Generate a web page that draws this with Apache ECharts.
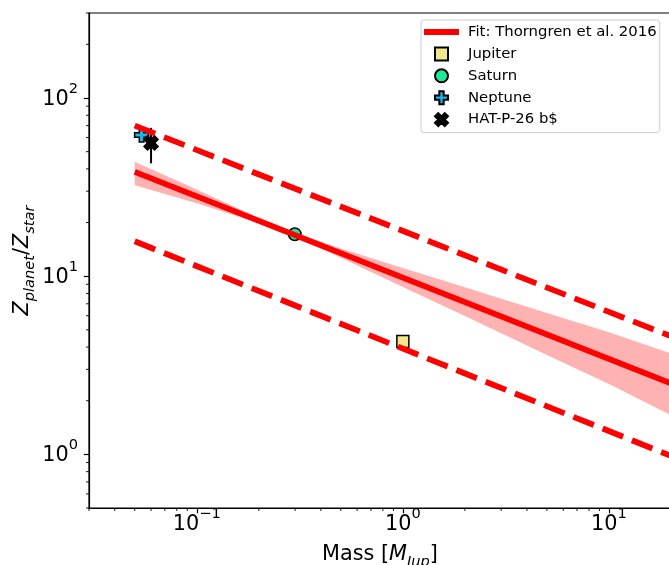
<!DOCTYPE html>
<html>
<head>
<meta charset="utf-8">
<script src="https://cdn.jsdelivr.net/npm/echarts@6/dist/echarts.min.js"></script>
<style>
  html, body { margin: 0; padding: 0; background: #ffffff; }
  #chart { width: 669px; height: 565px; }
</style>
</head>
<body>
<div id="chart"></div>
<script>
// Planet / star metallicity ratio against planet mass, log-log axes.

// Axis ranges
const massRange = [0.03, 20];
const ratioRange = [0.5, 300];

// Major tick labels (base 10 with exponent)
const xTickValues = [0.1, 1, 10];
const xTickExps = ['\u22121', '0', '1'];
const yTickValues = [1, 10, 100];
const yTickExps = ['0', '1', '2'];

// Minor tick positions
const xMinorTicks = [0.03, 0.04, 0.05, 0.06, 0.07, 0.08, 0.09,
                     0.2, 0.3, 0.4, 0.5, 0.6, 0.7, 0.8, 0.9,
                     2, 3, 4, 5, 6, 7, 8, 9, 20];
const yMinorTicks = [0.5, 0.6, 0.7, 0.8, 0.9,
                     2, 3, 4, 5, 6, 7, 8, 9,
                     20, 30, 40, 50, 60, 70, 80, 90,
                     200, 300];

// Thorngren et al. 2016 relation and its scatter envelope (end points)
const fitMass = [0.05, 20];
const fitRatio = [38.5, 2.5];
const envUpper = [70, 4.6];
const envLower = [15.7, 0.98];

// Uncertainty band of the fit
const bandMass = [0.05, 0.1, 0.2, 0.3, 0.5, 1, 2, 5, 10, 20];
const bandLow  = [32.4, 25.7, 19.8, 16.5, 12.7, 8.7, 5.97, 3.61, 2.48, 1.66];
const bandHigh = [43.9, 30.7, 21.2, 17.5, 14.3, 11.1, 8.68, 6.22, 4.84, 3.69];

// Solar-system planets and HAT-P-26 b
const jupiter = [1.0, 4.3];
const saturn = [0.299, 17.2];
const neptune = [0.054, 62];
const hatP26b = [0.06, 56];
const hatP26bErr = [43, 68];

const FONT = 'DejaVu Sans';
const FIT_NAME = 'Fit: Thorngren et al. 2016';
const SQUARE_PATH = 'path://M0,0L1,0L1,1L0,1Z';
const PLUS_PATH = 'path://M1,0L2,0L2,1L3,1L3,2L2,2L2,3L1,3L1,2L0,2L0,1L1,1Z';
const XFILL_PATH = 'path://M1,0L2,1L3,0L4,1L3,2L4,3L3,4L2,3L1,4L0,3L1,2L0,1Z';
const LINE_ICON = 'path://M0,0L35,0L35,5.8L0,5.8Z';

const BIG = 20.8;
const SMALL = 14.6;

const tickRich = {
  b: { fontFamily: FONT, fontSize: BIG, lineHeight: 24, verticalAlign: 'bottom', color: '#000' },
  s: { fontFamily: FONT, fontSize: SMALL, lineHeight: 15, verticalAlign: 'bottom', padding: [0, 0, 13.5, 0], color: '#000' }
};
const labelRich = {
  n: { fontFamily: FONT, fontSize: BIG, lineHeight: 24, verticalAlign: 'top', color: '#000' },
  it: { fontFamily: FONT, fontSize: BIG, fontStyle: 'italic', lineHeight: 24, verticalAlign: 'top', color: '#000' },
  sub: { fontFamily: FONT, fontSize: SMALL, fontStyle: 'italic', lineHeight: 15, verticalAlign: 'top', padding: [11, 0, 0, 0], color: '#000' }
};

function tickFormatter(values, exps) {
  return function (v) {
    for (let i = 0; i < values.length; i++) {
      if (Math.abs(Math.log10(v) - Math.log10(values[i])) < 1e-6) {
        return '{b|10}{s|' + exps[i] + '}';
      }
    }
    return '';
  };
}

const chart = echarts.init(document.getElementById('chart'), null, { renderer: 'canvas' });

const axisCommon = {
  type: 'log',
  logBase: 10,
  splitLine: { show: false },
  axisLine: { show: true, onZero: false, lineStyle: { color: '#000', width: 1.2 } },
  axisTick: { show: true, inside: false, length: 5.2, lineStyle: { color: '#000', width: 1.2 } }
};

const option = {
  animation: false,
  backgroundColor: '#ffffff',
  grid: {
    left: 89, top: 13, width: 582, height: 495,
    containLabel: false,
    outerBoundsMode: 'none',
    show: true, borderColor: '#000', borderWidth: 1.2, backgroundColor: 'transparent'
  },
  xAxis: Object.assign({}, axisCommon, {
    min: massRange[0], max: massRange[1],
    axisLabel: {
      showMinLabel: false, showMaxLabel: false, margin: 3,
      formatter: tickFormatter(xTickValues, xTickExps), rich: tickRich
    },
    name: '{n|Mass [}{it|M}{sub|Jup}{n|]}',
    nameLocation: 'middle', nameGap: 36,
    nameMoveOverlap: false,
    nameTextStyle: { rich: labelRich }
  }),
  yAxis: Object.assign({}, axisCommon, {
    min: ratioRange[0], max: ratioRange[1],
    axisLabel: {
      showMinLabel: false, showMaxLabel: false, margin: 11,
      formatter: tickFormatter(yTickValues, yTickExps), rich: tickRich
    },
    name: '{it|Z}{sub|planet}{n|/}{it|Z}{sub|star}',
    nameLocation: 'middle', nameRotate: 90, nameGap: 53,
    nameMoveOverlap: false,
    nameTextStyle: { rich: labelRich }
  }),
  legend: {
    orient: 'vertical',
    left: 421, top: 20,
    padding: [4.5, 3, 5.5, 3],
    itemWidth: 35, itemHeight: 13, itemGap: 6.9,
    backgroundColor: 'rgba(255,255,255,0.8)',
    borderColor: '#cccccc', borderWidth: 1, borderRadius: 3,
    selectedMode: false,
    textStyle: { fontFamily: FONT, fontSize: 14.86, lineHeight: 15, color: '#000', padding: [0, 0, 0, 4] },
    data: [
      { name: FIT_NAME, icon: LINE_ICON, itemStyle: { color: '#ff0000', borderWidth: 0 } },
      { name: 'Jupiter', icon: SQUARE_PATH },
      { name: 'Saturn', icon: 'circle' },
      { name: 'Neptune', icon: PLUS_PATH },
      { name: 'HAT-P-26 b$', icon: XFILL_PATH }
    ]
  },
  series: [
    {
      name: 'band',
      type: 'custom',
      silent: true,
      z: 1,
      data: bandMass.map((m, i) => [m, bandLow[i], bandHigh[i]]),
      encode: { x: 0, y: [1, 2] },
      renderItem: function (params, api) {
        if (params.dataIndex !== 0) return null;
        const pts = [];
        for (let i = 0; i < bandMass.length; i++) pts.push(api.coord([bandMass[i], bandHigh[i]]));
        for (let i = bandMass.length - 1; i >= 0; i--) pts.push(api.coord([bandMass[i], bandLow[i]]));
        return { type: 'polygon', shape: { points: pts }, style: { fill: 'rgba(255,0,0,0.3)' } };
      }
    },
    {
      name: FIT_NAME,
      type: 'line',
      silent: true,
      showSymbol: false,
      symbol: 'none',
      color: '#ff0000',
      lineStyle: { color: '#ff0000', width: 5.8, cap: 'butt' },
      data: fitMass.map((m, i) => [m, fitRatio[i]])
    },
    {
      name: 'upper envelope',
      type: 'line',
      silent: true,
      showSymbol: false,
      symbol: 'none',
      lineStyle: { color: '#ff0000', width: 5.8, type: [22, 9.5], cap: 'butt' },
      data: fitMass.map((m, i) => [m, envUpper[i]])
    },
    {
      name: 'lower envelope',
      type: 'line',
      silent: true,
      showSymbol: false,
      symbol: 'none',
      lineStyle: { color: '#ff0000', width: 5.8, type: [22, 9.5], cap: 'butt' },
      data: fitMass.map((m, i) => [m, envLower[i]])
    },
    {
      name: 'Jupiter',
      type: 'scatter',
      silent: true,
      symbol: 'rect',
      symbolSize: 12,
      itemStyle: { color: '#f0e68c', borderColor: '#000', borderWidth: 1.5, opacity: 1 },
      data: [jupiter]
    },
    {
      name: 'Saturn',
      type: 'scatter',
      silent: true,
      symbol: 'circle',
      symbolSize: 12.5,
      itemStyle: { color: '#1ee89c', borderColor: '#000', borderWidth: 1.5, opacity: 1 },
      data: [saturn]
    },
    {
      name: 'Neptune',
      type: 'scatter',
      silent: true,
      symbol: PLUS_PATH,
      symbolSize: 14,
      itemStyle: { color: '#1ab6ea', borderColor: '#000', borderWidth: 1.5, opacity: 1 },
      data: [neptune]
    },
    {
      name: 'HAT-P-26 b error',
      type: 'custom',
      silent: true,
      data: [[hatP26b[0], hatP26bErr[0], hatP26bErr[1]]],
      encode: { x: 0, y: [1, 2] },
      renderItem: function (params, api) {
        const lo = api.coord([api.value(0), api.value(1)]);
        const hi = api.coord([api.value(0), api.value(2)]);
        return { type: 'line', shape: { x1: lo[0], y1: lo[1], x2: hi[0], y2: hi[1] }, style: { stroke: '#000', lineWidth: 2 } };
      }
    },
    {
      name: 'HAT-P-26 b$',
      type: 'scatter',
      silent: true,
      symbol: XFILL_PATH,
      symbolSize: 14,
      itemStyle: { color: '#000', borderColor: '#000', borderWidth: 1.5, opacity: 1 },
      data: [hatP26b]
    }
  ]
};

chart.setOption(option);

// Minor ticks at 2..9 x 10^n on both log axes
const xBase = chart.convertToPixel({ yAxisIndex: 0 }, ratioRange[0]);
const yBase = chart.convertToPixel({ xAxisIndex: 0 }, massRange[0]);
const minorTicks = [];
xMinorTicks.forEach(function (v) {
  const px = chart.convertToPixel({ xAxisIndex: 0 }, v);
  minorTicks.push({ type: 'line', silent: true, shape: { x1: px, y1: xBase, x2: px, y2: xBase + 3 }, style: { stroke: '#000', lineWidth: 0.9 } });
});
yMinorTicks.forEach(function (v) {
  const py = chart.convertToPixel({ yAxisIndex: 0 }, v);
  minorTicks.push({ type: 'line', silent: true, shape: { x1: yBase, y1: py, x2: yBase - 3, y2: py }, style: { stroke: '#000', lineWidth: 0.9 } });
});
chart.setOption({ graphic: minorTicks });
</script>
</body>
</html>
